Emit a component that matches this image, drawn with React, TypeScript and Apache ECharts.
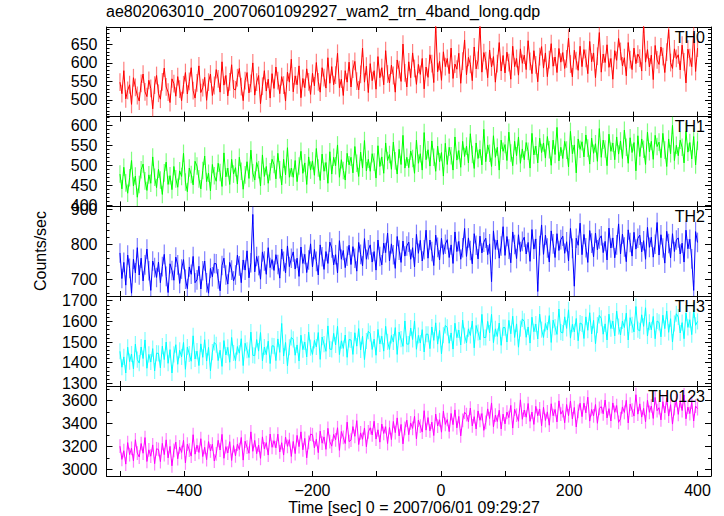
import React, { useEffect, useRef } from "react";
import * as echarts from "echarts";

// ---------------- data ----------------
const TITLE = "ae802063010_20070601092927_wam2_trn_4band_long.qdp";
const X_TITLE = "Time [sec] 0 = 2007/06/01 09:29:27";
const Y_TITLE = "Counts/sec";

const TIME_START = -500; // first bin (sec)
const TIME_STEP = 3; // bin spacing of the values below (sec)

const PANEL_NAMES = ["TH0", "TH1", "TH2", "TH3", "TH0123"];
const PANEL_COLORS = ["#ff0000", "#00ff00", "#0000ff", "#00ffff", "#ff00ff"];
// typical half-length of the error bars (counts/sec)
const PANEL_ERRORS = [24, 22, 28, 39, 60];

const X_MIN = -521;
const X_MAX = 421;
const X_TICKS = [-500, -400, -300, -200, -100, 0, 100, 200, 300, 400];
const X_LABELS = [-400, -200, 0, 200, 400];

const Y_MIN = [455, 397, 652, 1287, 2941];
const Y_MAX = [697, 622, 908, 1723, 3728];
const Y_LABELS = [
  [500, 550, 600, 650],
  [400, 450, 500, 550, 600],
  [700, 800, 900],
  [1300, 1400, 1500, 1600, 1700],
  [3000, 3200, 3400, 3600],
];
const Y_MINOR_STEP = [10, 10, 20, 20, 100];

const TH0 = [
  548, 517, 579, 503, 526, 541, 488, 560, 534, 512,
  497, 545, 570, 522, 509, 553, 531, 476, 540, 566,
  518, 502, 549, 586, 535, 521, 493, 557, 544, 510,
  563, 529, 498, 541, 574, 516, 550, 587, 525, 505,
  546, 592, 520, 533, 561, 499, 548, 570, 512, 539,
  582, 557, 521, 603, 540, 566, 511, 549, 595, 530,
  527, 560, 585, 536, 498, 552, 574, 519, 545, 600,
  513, 548, 566, 490, 537, 579, 524, 556, 505, 571,
  531, 589, 552, 517, 563, 540, 497, 575, 548, 610,
  522, 565, 541, 592, 506, 558, 533, 584, 549, 515,
  572, 538, 601, 549, 521, 587, 560, 532, 614, 545,
  590, 541, 567, 626, 533, 556, 512, 579, 548, 602,
  535, 583, 604, 551, 527, 569, 640, 548, 591, 520,
  598, 552, 579, 529, 617, 560, 587, 541, 633, 570,
  546, 594, 566, 521, 608, 582, 550, 651, 573, 535,
  603, 560, 627, 585, 542, 596, 569, 612, 530, 589,
  561, 622, 598, 547, 705, 576, 604, 553, 630, 590,
  612, 571, 640, 558, 597, 583, 626, 545, 605, 662,
  568, 615, 596, 552, 643, 584, 607, 705, 575, 628,
  606, 560, 635, 589, 617, 548, 598, 655, 578, 620,
  573, 629, 601, 556, 645, 590, 612, 567, 638, 599,
  621, 582, 660, 604, 571, 633, 595, 549, 617, 644,
  586, 627, 563, 609, 652, 591, 616, 574, 639, 602,
  628, 585, 611, 667, 597, 562, 634, 606, 580, 645,
  590, 636, 612, 571, 658, 603, 627, 560, 618, 682,
  575, 624, 601, 649, 588, 612, 556, 633, 607, 666,
  631, 592, 614, 565, 655, 609, 582, 640, 598, 624,
  613, 578, 705, 602, 636, 589, 621, 555, 647, 608,
  596, 643, 617, 574, 629, 690, 601, 585, 638, 612,
  622, 581, 648, 603, 546, 637, 614, 590, 680, 577,
  640,
];

const TH1 = [
  478, 441, 495, 456, 430, 469, 512, 448, 473, 420,
  452, 489, 503, 461, 437, 476, 455, 521, 470, 444,
  490, 463, 427, 481, 508, 452, 474, 439, 497, 466,
  445, 486, 472, 530, 458, 434, 493, 477, 451, 510,
  498, 466, 441, 487, 523, 459, 480, 436, 502, 474,
  460, 505, 482, 447, 531, 471, 493, 452, 515, 478,
  494, 453, 520, 485, 440, 476, 509, 467, 538, 481,
  463, 507, 489, 448, 526, 472, 497, 455, 484, 515,
  502, 466, 530, 489, 451, 515, 476, 544, 470, 493,
  470, 512, 459, 498, 535, 480, 506, 452, 521, 488,
  511, 475, 542, 493, 462, 528, 485, 507, 455, 534,
  478, 520, 499, 551, 470, 514, 487, 463, 530, 501,
  520, 481, 547, 505, 472, 533, 493, 562, 486, 515,
  485, 529, 508, 468, 549, 497, 521, 480, 556, 512,
  527, 490, 558, 511, 478, 540, 502, 575, 493, 520,
  494, 536, 517, 480, 563, 505, 529, 488, 582, 514,
  539, 498, 561, 520, 485, 548, 509, 532, 473, 555,
  502, 545, 524, 488, 571, 513, 537, 495, 560, 522,
  548, 506, 579, 527, 492, 556, 517, 540, 501, 590,
  509, 551, 530, 497, 574, 520, 545, 488, 563, 535,
  552, 512, 583, 531, 499, 560, 524, 571, 505, 541,
  514, 557, 535, 493, 580, 526, 548, 506, 568, 532,
  556, 518, 572, 539, 500, 563, 527, 595, 511, 545,
  517, 560, 538, 496, 585, 529, 551, 481, 566, 540,
  559, 521, 576, 543, 503, 568, 530, 554, 510, 592,
  520, 563, 541, 499, 578, 535, 556, 514, 571, 528,
  561, 517, 588, 545, 505, 569, 532, 557, 486, 574,
  522, 566, 540, 502, 583, 534, 560, 515, 575, 547,
  558, 519, 580, 538, 497, 566, 529, 600, 512, 550,
  524, 563, 545, 506, 585, 533, 557, 516, 572, 501,
  560,
];

const TH2 = [
  775, 702, 748, 683, 769, 731, 660, 757, 718, 790,
  712, 760, 695, 741, 786, 724, 668, 752, 733, 705,
  749, 690, 736, 771, 708, 662, 744, 725, 697, 763,
  741, 688, 729, 756, 700, 673, 735, 714, 765, 690,
  698, 737, 672, 724, 752, 690, 660, 731, 707, 745,
  744, 701, 667, 739, 760, 712, 686, 748, 726, 695,
  712, 769, 738, 690, 755, 726, 781, 704, 747, 885,
  721, 765, 739, 700, 778, 752, 714, 790, 733, 756,
  725, 770, 742, 703, 786, 751, 718, 795, 736, 760,
  778, 729, 760, 708, 792, 745, 771, 719, 755, 801,
  735, 785, 751, 712, 798, 764, 728, 779, 745, 806,
  789, 741, 770, 718, 810, 757, 782, 733, 766, 797,
  742, 793, 760, 723, 805, 771, 738, 816, 757, 784,
  798, 749, 779, 726, 812, 765, 741, 803, 776, 832,
  752, 801, 770, 731, 822, 783, 748, 809, 766, 795,
  806, 757, 790, 735, 828, 774, 811, 752, 784, 840,
  760, 812, 779, 739, 826, 791, 755, 817, 771, 800,
  813, 762, 798, 745, 835, 779, 808, 757, 790, 845,
  765, 818, 782, 744, 830, 797, 758, 823, 775, 806,
  817, 770, 801, 693, 838, 785, 812, 760, 795, 850,
  768, 822, 786, 747, 835, 799, 759, 827, 779, 808,
  820, 772, 805, 751, 842, 786, 815, 665, 796, 855,
  771, 826, 789, 749, 838, 801, 762, 830, 782, 813,
  823, 774, 807, 752, 845, 788, 680, 817, 797, 860,
  770, 828, 790, 748, 839, 803, 764, 832, 784, 815,
  824, 776, 808, 755, 846, 789, 818, 761, 798, 858,
  772, 829, 792, 750, 841, 805, 766, 834, 786, 817,
  826, 778, 810, 757, 848, 791, 820, 763, 800, 862,
  769, 827, 789, 746, 837, 802, 761, 830, 779, 812,
  818, 772, 803, 749, 840, 787, 814, 758, 668, 836,
  805,
];

const TH3 = [
  1455, 1378, 1428, 1350, 1475, 1405, 1442, 1370, 1490, 1415,
  1398, 1476, 1420, 1510, 1373, 1440, 1403, 1468, 1360, 1446,
  1445, 1375, 1480, 1415, 1500, 1397, 1463, 1350, 1440, 1487,
  1392, 1460, 1428, 1498, 1368, 1476, 1442, 1407, 1530, 1418,
  1456, 1386, 1491, 1426, 1511, 1408, 1474, 1361, 1451, 1498,
  1487, 1410, 1460, 1382, 1507, 1437, 1474, 1402, 1522, 1447,
  1410, 1478, 1446, 1516, 1386, 1494, 1460, 1425, 1548, 1436,
  1434, 1512, 1456, 1546, 1409, 1476, 1439, 1504, 1396, 1482,
  1480, 1410, 1515, 1450, 1590, 1432, 1498, 1385, 1475, 1522,
  1513, 1436, 1486, 1408, 1533, 1463, 1500, 1428, 1548, 1473,
  1440, 1508, 1476, 1546, 1416, 1524, 1490, 1455, 1578, 1466,
  1464, 1542, 1486, 1576, 1439, 1506, 1469, 1534, 1426, 1512,
  1510, 1440, 1545, 1480, 1565, 1462, 1528, 1415, 1505, 1552,
  1541, 1464, 1514, 1436, 1561, 1491, 1528, 1456, 1576, 1501,
  1464, 1532, 1500, 1570, 1440, 1548, 1514, 1479, 1602, 1490,
  1490, 1568, 1512, 1602, 1465, 1532, 1495, 1560, 1452, 1538,
  1538, 1468, 1573, 1508, 1593, 1490, 1556, 1443, 1533, 1580,
  1571, 1494, 1544, 1466, 1591, 1521, 1558, 1486, 1606, 1531,
  1496, 1564, 1532, 1602, 1472, 1580, 1546, 1511, 1634, 1522,
  1522, 1600, 1544, 1634, 1497, 1564, 1527, 1592, 1484, 1570,
  1570, 1500, 1605, 1540, 1625, 1522, 1588, 1475, 1565, 1612,
  1600, 1523, 1573, 1495, 1620, 1550, 1587, 1515, 1635, 1560,
  1522, 1590, 1558, 1628, 1498, 1606, 1572, 1537, 1660, 1548,
  1544, 1622, 1566, 1656, 1519, 1586, 1549, 1614, 1506, 1592,
  1587, 1517, 1622, 1557, 1642, 1539, 1605, 1492, 1582, 1629,
  1615, 1538, 1588, 1510, 1635, 1565, 1602, 1530, 1650, 1575,
  1534, 1602, 1570, 1640, 1510, 1618, 1584, 1549, 1672, 1560,
  1554, 1632, 1576, 1666, 1529, 1596, 1559, 1624, 1516, 1602,
  1595, 1525, 1630, 1565, 1650, 1547, 1613, 1500, 1590, 1637,
  1621, 1544, 1594, 1516, 1641, 1571, 1608, 1536, 1656, 1581,
  1600,
];

const TH0123 = [
  3202, 3086, 3162, 3045, 3233, 3128, 3183, 3074, 3258, 3142,
  3107, 3225, 3140, 3277, 3068, 3170, 3114, 3213, 3049, 3179,
  3173, 3067, 3226, 3128, 3257, 3100, 3200, 3030, 3166, 3237,
  3092, 3195, 3147, 3253, 3055, 3220, 3168, 3115, 3302, 3132,
  3210, 3147, 3267, 3111, 3192, 3084, 3242, 3160, 3219, 3072,
  3135, 3253, 3168, 3305, 3096, 3198, 3142, 3241, 3077, 3207,
  3117, 3220, 3172, 3278, 3080, 3245, 3193, 3140, 3327, 3157,
  3252, 3136, 3212, 3095, 3283, 3178, 3233, 3124, 3308, 3192,
  3250, 3187, 3307, 3151, 3232, 3124, 3282, 3200, 3259, 3112,
  3243, 3137, 3296, 3198, 3327, 3170, 3270, 3100, 3236, 3307,
  3302, 3186, 3262, 3145, 3333, 3228, 3283, 3174, 3358, 3242,
  3202, 3305, 3257, 3363, 3165, 3330, 3278, 3225, 3412, 3242,
  3255, 3373, 3288, 3425, 3216, 3318, 3262, 3361, 3197, 3327,
  3363, 3300, 3420, 3264, 3345, 3237, 3395, 3313, 3372, 3225,
  3365, 3259, 3418, 3320, 3449, 3292, 3392, 3222, 3358, 3429,
  3302, 3405, 3357, 3463, 3265, 3430, 3378, 3325, 3512, 3342,
  3452, 3336, 3412, 3295, 3483, 3378, 3433, 3324, 3508, 3392,
  3435, 3329, 3488, 3390, 3519, 3362, 3462, 3292, 3428, 3499,
  3478, 3415, 3535, 3379, 3460, 3352, 3510, 3428, 3487, 3340,
  3410, 3528, 3443, 3580, 3371, 3473, 3417, 3516, 3352, 3482,
  3397, 3500, 3452, 3558, 3360, 3525, 3473, 3420, 3607, 3437,
  3518, 3455, 3575, 3419, 3500, 3392, 3550, 3468, 3527, 3380,
  3542, 3426, 3502, 3385, 3573, 3468, 3523, 3414, 3598, 3482,
  3513, 3407, 3566, 3468, 3597, 3440, 3540, 3370, 3506, 3577,
  3460, 3578, 3493, 3630, 3421, 3523, 3467, 3566, 3402, 3532,
  3548, 3485, 3605, 3449, 3530, 3422, 3580, 3498, 3557, 3410,
  3442, 3545, 3497, 3603, 3405, 3570, 3518, 3465, 3652, 3482,
  3572, 3456, 3532, 3415, 3603, 3498, 3553, 3444, 3628, 3512,
  3538, 3432, 3591, 3493, 3622, 3465, 3565, 3395, 3531, 3602,
  3480, 3598, 3513, 3650, 3441, 3543, 3487, 3586, 3422, 3552,
  3530,
];

const SERIES_VALUES = [TH0, TH1, TH2, TH3, TH0123];

// ---------------- layout ----------------
const FONT = "'Liberation Sans', Arial, Helvetica, sans-serif";
const GRID_LEFT = 106.5;
const GRID_RIGHT = 13;
const GRID_TOPS = [27, 116.6, 206.4, 296, 386];
const GRID_H = [89.6, 89.8, 89.6, 90, 90];

function minorTicks(min: number, max: number, step: number): number[] {
  const out: number[] = [];
  let v = Math.ceil(min / step) * step;
  while (v <= max) {
    out.push(v);
    v += step;
  }
  return out;
}

function buildOption() {
  const grid: any[] = [];
  const xAxis: any[] = [];
  const yAxis: any[] = [];
  const series: any[] = [];
  const graphic: any[] = [];
  const black = "#000";

  for (let i = 0; i < 5; i++) {
    grid.push({
      left: GRID_LEFT,
      right: GRID_RIGHT,
      top: GRID_TOPS[i],
      height: GRID_H[i],
      outerBoundsMode: "none",
    });
    const isLast = i === 4;
    ["bottom", "top"].forEach((pos) => {
      xAxis.push({
        type: "value",
        gridIndex: i,
        position: pos,
        min: X_MIN,
        max: X_MAX,
        axisLine: { show: true, onZero: false, lineStyle: { color: black, width: 1 } },
        axisTick: {
          show: true,
          inside: true,
          length: 5,
          customValues: X_TICKS,
          lineStyle: { color: black, width: 1 },
        },
        axisLabel: {
          show: isLast && pos === "bottom",
          customValues: X_LABELS,
          color: black,
          fontSize: 16,
          fontFamily: FONT,
          margin: 6,
          formatter: (v: number) => (v < 0 ? "\u2212" + Math.abs(v) : String(v)),
        },
        splitLine: { show: false },
      });
    });
    const minors = minorTicks(Y_MIN[i], Y_MAX[i], Y_MINOR_STEP[i]);
    ["left", "right"].forEach((pos) => {
      yAxis.push({
        type: "value",
        gridIndex: i,
        position: pos,
        min: Y_MIN[i],
        max: Y_MAX[i],
        axisLine: { show: true, onZero: false, lineStyle: { color: black, width: 1 } },
        axisTick: {
          show: true,
          inside: true,
          length: 6,
          customValues: Y_LABELS[i],
          lineStyle: { color: black, width: 1 },
        },
        axisLabel: {
          show: pos === "left",
          customValues: Y_LABELS[i],
          color: black,
          fontSize: 16,
          fontFamily: FONT,
          margin: 9,
          formatter: (v: number) => String(v),
        },
        splitLine: { show: false },
      });
      yAxis.push({
        type: "value",
        gridIndex: i,
        position: pos,
        min: Y_MIN[i],
        max: Y_MAX[i],
        axisLine: { show: false, onZero: false },
        axisTick: {
          show: true,
          inside: true,
          length: 3,
          customValues: minors,
          lineStyle: { color: black, width: 1 },
        },
        axisLabel: { show: false },
        splitLine: { show: false },
      });
    });

    const pts = SERIES_VALUES[i].map((v, k) => [TIME_START + k * TIME_STEP, v]);
    const color = PANEL_COLORS[i];
    const err = PANEL_ERRORS[i];
    const yMin = Y_MIN[i];
    const yMax = Y_MAX[i];

    // error bars (lighter)
    series.push({
      type: "custom",
      xAxisIndex: i * 2,
      yAxisIndex: i * 4,
      data: pts,
      encode: { x: 0, y: 1 },
      silent: true,
      renderItem: (params: any, api: any) => {
        const t = api.value(0);
        const v = api.value(1);
        const lo = Math.max(v - err, yMin);
        const hi = Math.min(v + err, yMax);
        if (hi <= lo) return null;
        const p1 = api.coord([t, lo]);
        const p2 = api.coord([t, hi]);
        return {
          type: "line",
          shape: { x1: p1[0], y1: p1[1], x2: p2[0], y2: p2[1] },
          style: { stroke: color, lineWidth: 1.2, opacity: 0.5 },
        };
      },
    });

    series.push({
      type: "line",
      name: PANEL_NAMES[i],
      xAxisIndex: i * 2,
      yAxisIndex: i * 4,
      data: pts,
      showSymbol: false,
      symbol: "none",
      clip: true,
      lineStyle: { color, width: 1 },
      itemStyle: { color },
      silent: true,
    });

    graphic.push({
      type: "text",
      right: GRID_RIGHT + 6,
      top: GRID_TOPS[i] + 2,
      z: 100,
      style: {
        text: PANEL_NAMES[i],
        fill: black,
        font: `16px ${FONT}`,
      },
    });
  }

  graphic.push({
    type: "text",
    x: 40,
    y: 251,
    rotation: Math.PI / 2,
    style: {
      text: Y_TITLE,
      fill: black,
      font: `16px ${FONT}`,
      align: "center",
      verticalAlign: "middle",
    },
  });
  graphic.push({
    type: "text",
    x: 414,
    y: 507,
    style: {
      text: X_TITLE,
      fill: black,
      font: `16px ${FONT}`,
      align: "center",
      verticalAlign: "middle",
    },
  });

  return {
    animation: false,
    backgroundColor: "#fff",
    title: {
      text: TITLE,
      left: 106,
      top: 3,
      padding: 0,
      textStyle: { color: black, fontSize: 16, fontWeight: "normal", fontFamily: FONT },
    },
    grid,
    xAxis,
    yAxis,
    series,
    graphic,
  };
}

export default function App() {
  const ref = useRef<HTMLDivElement>(null);
  useEffect(() => {
    if (!ref.current) return;
    const chart = echarts.init(ref.current, undefined, { renderer: "svg" });
    chart.setOption(buildOption() as any);
    return () => chart.dispose();
  }, []);
  return (
    <div
      ref={ref}
      style={{ position: "fixed", left: 0, top: 0, width: 724, height: 516 }}
    />
  );
}
